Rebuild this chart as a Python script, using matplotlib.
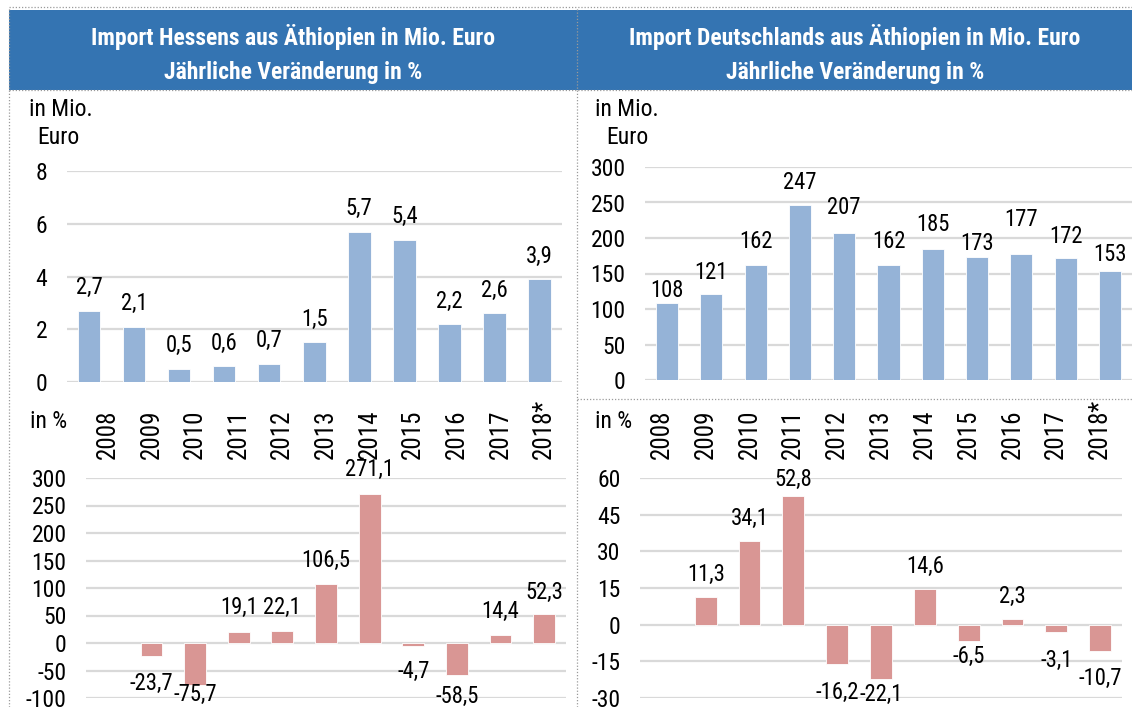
import matplotlib
matplotlib.use("Agg")
import matplotlib.pyplot as plt
from matplotlib import font_manager
from matplotlib.patches import Rectangle
from matplotlib.lines import Line2D

# data
years = ["2008", "2009", "2010", "2011", "2012", "2013", "2014", "2015", "2016", "2017", "2018*"]
hessen_mio = [2.7, 2.1, 0.5, 0.6, 0.7, 1.5, 5.7, 5.4, 2.2, 2.6, 3.9]
de_mio = [108, 121, 162, 247, 207, 162, 185, 173, 177, 172, 153]
hessen_pct = [None, -23.7, -75.7, 19.1, 22.1, 106.5, 271.1, -4.7, -58.5, 14.4, 52.3]
de_pct = [None, 11.3, 34.1, 52.8, -16.2, -22.1, 14.6, -6.5, 2.3, -3.1, -10.7]

# label distance from bar end, in pixels (the original labels were nudged by hand)
hessen_mio_off = [23] * 11
de_mio_off = [13, 22, 23, 22, 26, 23, 24, 14, 35, 21, 17]
hessen_pct_off = [0, 27, 10, 25, 23, 24, 24, 26, 21, 24, 22]
de_pct_off = [0, 23, 23, 16, 28, 16, 23, 16, 23, 28, 28]

# narrow font like Arial Narrow, if there is one
names = {f.name for f in font_manager.fontManager.ttflist}
narrow = [n for n in ["Liberation Sans Narrow", "Arial Narrow", "Roboto Condensed",
                      "Archivo Narrow", "PT Sans Narrow"] if n in names]
NARROW = bool(narrow)
plt.rcParams["font.family"] = narrow[:1] + ["Liberation Sans", "DejaVu Sans"]
plt.rcParams["axes.unicode_minus"] = False
k = 1.0 if NARROW else 0.82  # shrink wide fallback font

W, H = 1132, 707
BLUE = "#95B3D7"
RED = "#D99694"
HEAD = "#3474B2"
GRID = "#D9D9D9"

fig = plt.figure(figsize=(W / 100, H / 100), dpi=100)


def box(x0, y0, x1, y1):
    # pixel box (top-left origin) -> figure fraction rect
    return [x0 / W, 1 - y1 / H, (x1 - x0) / W, (y1 - y0) / H]


def fmt(v, dec):
    if dec:
        return f"{v:.1f}".replace(".", ",")
    return f"{v:.0f}"


def draw(ax, vals, color, ylim, ticks, offs, dec, top_labels):
    xs = [i for i, v in enumerate(vals) if v is not None]
    vs = [vals[i] for i in xs]
    ax.set_axisbelow(True)
    ax.bar(xs, vs, width=0.5, color=color, edgecolor="white", linewidth=0.6)
    for x, v in zip(xs, vs):
        sign = 1 if v >= 0 else -1
        ax.annotate(fmt(v, dec), xy=(x, v), xytext=(0, sign * offs[x] * 0.72),
                    textcoords="offset points", ha="center", va="center",
                    fontsize=16.3 * k, annotation_clip=False)
    ax.set_xlim(-0.5, len(vals) - 0.5)
    ax.set_ylim(*ylim)
    ax.set_yticks(ticks)
    ax.yaxis.grid(True, color=GRID, linewidth=1.6)
    for s in ax.spines.values():
        s.set_visible(False)
    ax.tick_params(axis="y", length=0, labelsize=17 * k, pad=14)
    ax.set_xticks(range(len(vals)))
    if top_labels:
        ax.xaxis.tick_top()
        ax.set_xticklabels(years, rotation=90, fontsize=18 * k)
        ax.tick_params(axis="x", length=0, pad=14)
    else:
        ax.tick_params(axis="x", length=0, labelbottom=False)


ax1 = fig.add_axes(box(66.5, 171, 562, 382))
draw(ax1, hessen_mio, BLUE, (0, 8), [0, 2, 4, 6, 8], hessen_mio_off, True, False)

ax2 = fig.add_axes(box(645, 167, 1132, 380))
draw(ax2, de_mio, BLUE, (0, 300), range(0, 301, 50), de_mio_off, False, False)

ax3 = fig.add_axes(box(86, 478, 566, 698))
draw(ax3, hessen_pct, RED, (-100, 300), range(-100, 301, 50), hessen_pct_off, True, True)

ax4 = fig.add_axes(box(640, 478, 1122, 698))
draw(ax4, de_pct, RED, (-30, 60), range(-30, 61, 15), de_pct_off, True, True)

# header band
fig.patches.append(Rectangle((9 / W, 1 - 90 / H), (W - 9) / W, 80 / H,
                             transform=fig.transFigure, facecolor=HEAD, edgecolor="none", zorder=0))

# dotted frame lines
dot = dict(color="#9A9A9A", linestyle=(0, (1, 1.5)), linewidth=0.9, transform=fig.transFigure)
fig.lines.append(Line2D([9 / W, 1], [1 - 7 / H, 1 - 7 / H], **dot))
fig.lines.append(Line2D([9 / W, 9 / W], [0, 1 - 7 / H], **dot))
fig.lines.append(Line2D([577 / W, 577 / W], [0, 1 - 7 / H], **dot))
fig.lines.append(Line2D([9 / W, 1], [1 - 90 / H, 1 - 90 / H], **dot))
fig.lines.append(Line2D([577 / W, 1], [1 - 399 / H, 1 - 399 / H], **dot))

# titles
for cx, t1 in [(293, "Import Hessens aus Äthiopien in Mio. Euro"),
               (855, "Import Deutschlands aus Äthiopien in Mio. Euro")]:
    fig.text(cx / W, 1 - 37 / H, t1, color="white", fontsize=17 * k, fontweight="bold",
             ha="center", va="center")
    fig.text(cx / W, 1 - 73 / H, "Jährliche Veränderung in %", color="white", fontsize=17 * k,
             fontweight="bold", ha="center", va="center")

# unit labels
for x_in, x_eu in [(29, 37), (595, 606)]:
    fig.text(x_in / W, 1 - 110 / H, "in Mio.", fontsize=17 * k, ha="left", va="center")
    fig.text(x_eu / W, 1 - 138 / H, "Euro", fontsize=17 * k, ha="left", va="center")
for x in [30, 595]:
    fig.text(x / W, 1 - 422 / H, "in %", fontsize=17 * k, ha="left", va="center")

fig.savefig("out.png", dpi=100)
